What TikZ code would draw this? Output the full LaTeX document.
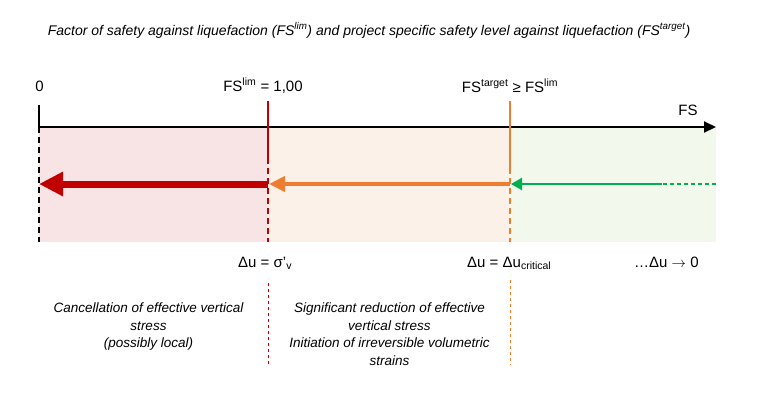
\documentclass[tikz,border=0pt]{standalone}
\usepackage{fontspec}
\setmainfont{Liberation Sans}
\usetikzlibrary{arrows.meta}
\definecolor{myred}{HTML}{C00000}
\definecolor{myorange}{HTML}{ED7D31}
\definecolor{mygreen}{HTML}{00B050}
\definecolor{fillred}{HTML}{F8E4E4}
\definecolor{fillorange}{HTML}{FCF1E8}
\definecolor{fillgreen}{HTML}{F2F8EC}
\tikzset{
  toplbl/.style={inner sep=0pt, font=\fontsize{15}{18}\selectfont},
  botlbl/.style={inner sep=0pt, font=\fontsize{15}{18}\selectfont},
  desc/.style={inner sep=0pt, align=center, font=\itshape\fontsize{13.5}{17.5}\selectfont},
  titlelbl/.style={inner sep=0pt, font=\itshape\fontsize{14}{17}\selectfont},
  axisline/.style={line width=2pt, black},
  zoneline/.style={line width=1.6pt},
  dashline/.style={line width=1.6pt, dash pattern=on 6pt off 4pt},
  thindash/.style={line width=1pt, dash pattern=on 3pt off 3pt},
}
\begin{document}
\begin{tikzpicture}[x=1pt,y=-1pt]
\useasboundingbox (0,0) rectangle (759,392);
\fill[white] (0,0) rectangle (759,392);
% zones
\fill[fillred] (39,127) rectangle (268,242);
\fill[fillorange] (268,127) rectangle (510,242);
\fill[fillgreen] (510,127) rectangle (716,242);
% coordinates
\coordinate (t0) at (39,105);
\coordinate (a0) at (39,127);
\coordinate (b0) at (39,242);
\coordinate (aEnd) at (716,127);
\coordinate (r1) at (268,101);
\coordinate (r2) at (268,158);
\coordinate (r3) at (268,242);
\coordinate (r4) at (268,283);
\coordinate (r5) at (268,365);
\coordinate (o1) at (510,101);
\coordinate (o2) at (510,168);
\coordinate (o3) at (510,242);
\coordinate (o4) at (510,280);
\coordinate (o5) at (510,365);
\coordinate (redS) at (268,184);
\coordinate (redE) at (39,184);
\coordinate (orS) at (510,184);
\coordinate (orE) at (269,184);
\coordinate (grS) at (662,184);
\coordinate (grE) at (511,184);
\coordinate (grD) at (716,184);
% left tick and axis
\draw[axisline] (t0) -- (a0);
\draw[dashline, black] (a0) -- (b0);
\draw[axisline, -{Triangle[length=12pt,width=11pt]}] (a0) -- (aEnd);
% red limit line
\draw[zoneline, myred] (r1) -- (r2);
\draw[dashline, myred] (r2) -- (r3);
\draw[thindash, myred] (r4) -- (r5);
% orange target line
\draw[zoneline, myorange] (o1) -- (o2);
\draw[dashline, myorange] (o2) -- (o3);
\draw[thindash, myorange] (o4) -- (o5);
% arrows
\draw[myred, line width=7pt, -{Triangle[length=24pt,width=23pt]}] (redS) -- (redE);
\draw[myorange, line width=4pt, -{Triangle[length=16pt,width=15pt]}] (orS) -- (orE);
\draw[mygreen, line width=2pt, -{Triangle[length=11pt,width=12pt]}] (grS) -- (grE);
\draw[mygreen, line width=2pt, dash pattern=on 4pt off 3pt] (grD) -- (grS);
% top labels
\node[toplbl, anchor=base] (l0) at (39.5,91) {0};
\node[toplbl, anchor=base] (llim) at (263,91) {FS\textsuperscript{lim} = 1,00};
\node[toplbl, anchor=base] (ltarget) at (510,92) {FS\textsuperscript{target} ≥ FS\textsuperscript{lim}};
\node[toplbl, anchor=base] (lFS) at (688,115) {FS};
% bottom labels
\node[botlbl, anchor=base west] (ld1) at (238,267) {Δu = σ’\textsubscript{v}};
\node[botlbl, anchor=base west] (ld2) at (467,267) {Δu = Δu\textsubscript{critical}};
\node[botlbl, anchor=base west] (ld3) at (634,267) {…Δu \ensuremath{\rightarrow} 0};
% title
\node[titlelbl, anchor=base] (title) at (369,35) {Factor of safety against liquefaction (FS\textsuperscript{lim}) and project specific safety level against liquefaction (FS\textsuperscript{target})};
% descriptions
\node[desc, anchor=north] (d1) at (148.5,303) {Cancellation of effective vertical\\stress\\(possibly local)};
\node[desc, anchor=north] (d2) at (389.5,303) {Significant reduction of effective\\vertical stress\\Initiation of irreversible volumetric\\strains};
\end{tikzpicture}
\end{document}
